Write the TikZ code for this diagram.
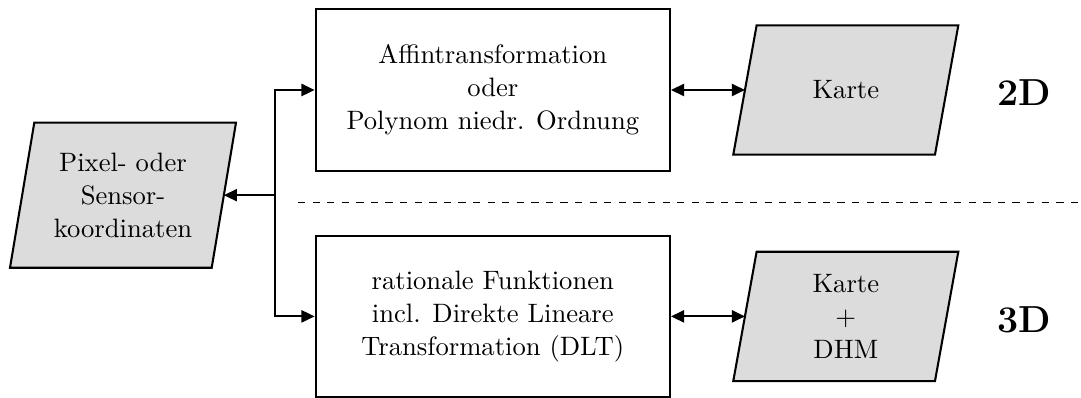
\documentclass[tikz,border=0pt]{standalone}
\usetikzlibrary{arrows.meta,backgrounds}
\definecolor{paperfill}{RGB}{220,220,220}
\tikzset{
  txt/.style={font=\fontsize{10.95}{13.6}\selectfont, align=center},
  procbox/.style={txt, draw, line width=0.85pt, minimum width=145.8pt,
    minimum height=66.4pt, inner sep=0pt},
  databox/.style={txt, inner sep=0pt, outer sep=0pt, minimum width=83pt},
  para/.style={fill=paperfill, draw, line width=0.85pt, line join=miter},
  tip/.tip={Triangle[length=5.4pt,width=5pt]},
  conn/.style={line width=0.8pt, -tip},
  both/.style={line width=0.8pt, tip-tip},
  dimlabel/.style={font=\fontsize{15.5}{19}\bfseries\selectfont, inner sep=0pt}
}
\begin{document}
\begin{tikzpicture}[x=0.4115pt, y=-0.4115pt]
  \useasboundingbox (0,0) rectangle (1081,398);

  % input data
  \node[databox, minimum height=59.7pt] (src) at (123,195.2)
    {Pixel- oder\\Sensor-\\koordinaten};

  % transformation models
  \node[procbox] (aff) at (492.8,90)
    {Affintransformation\\oder\\Polynom niedr. Ordnung};
  \node[procbox] (rat) at (492.8,316.4)
    {rationale Funktionen\\incl. Direkte Lineare\\Transformation (DLT)};

  % target data
  \node[databox, minimum height=53.2pt] (k2) at (845.8,90) {Karte};
  \node[databox, minimum height=53.2pt] (k3) at (845.8,316.4) {Karte\\+\\DHM};

  % slanted data shapes behind the texts
  \begin{scope}[on background layer]
    \path[para] ([xshift=-5pt]src.south west) -- ([xshift=-5pt]src.south east)
      -- ([xshift=5pt]src.north east) -- ([xshift=5pt]src.north west) -- cycle;
    \path[para] ([xshift=-4.8pt]k2.south west) -- ([xshift=-4.8pt]k2.south east)
      -- ([xshift=4.8pt]k2.north east) -- ([xshift=4.8pt]k2.north west) -- cycle;
    \path[para] ([xshift=-4.8pt]k3.south west) -- ([xshift=-4.8pt]k3.south east)
      -- ([xshift=4.8pt]k3.north east) -- ([xshift=4.8pt]k3.north west) -- cycle;
  \end{scope}

  % branching connectors
  \coordinate (jx) at (275.3,0);
  \coordinate (j) at (jx |- src.east);
  \draw[conn] (j) -- (src.east);
  \draw[conn] (j) |- (aff.west);
  \draw[conn] (j) |- (rat.west);
  \draw[both] (aff.east) -- (k2.west);
  \draw[both] (rat.east) -- (k3.west);

  % separator between 2D and 3D
  \coordinate (dl) at (298,202.5);
  \coordinate (dr) at (1081,202.5);
  \draw[dashed, line width=0.7pt] (dl) -- (dr);

  \node[dimlabel] (l2) at (1024,92.5) {2D};
  \node[dimlabel] (l3) at (1024,320.3) {3D};
\end{tikzpicture}
\end{document}
